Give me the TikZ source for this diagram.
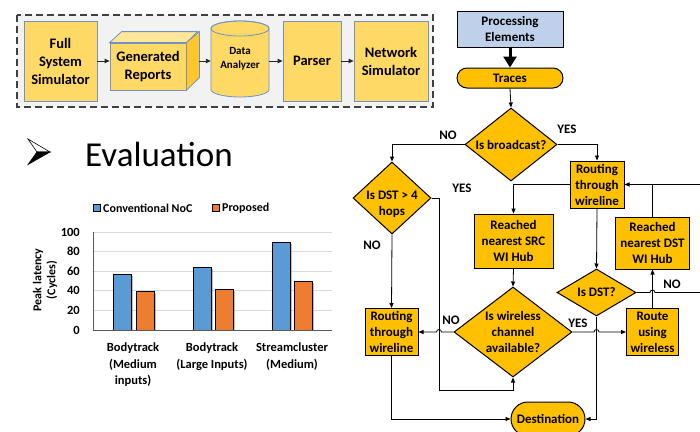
\documentclass[tikz,border=0pt]{standalone}
\usepackage{fontspec}
\setmainfont{Carlito}
\usetikzlibrary{arrows.meta,shapes.geometric,calc}
\definecolor{topfill}{RGB}{255,217,102}
\definecolor{cubetop}{RGB}{255,230,153}
\definecolor{cuberight}{RGB}{255,200,40}
\definecolor{topborder}{RGB}{112,146,196}
\definecolor{fgold}{RGB}{255,192,0}
\definecolor{pefill}{RGB}{190,208,234}
\definecolor{boxbg}{RGB}{242,242,242}
\definecolor{cblue}{RGB}{91,155,213}
\definecolor{corange}{RGB}{237,125,49}
\definecolor{gridc}{RGB}{217,217,217}
\definecolor{axisc}{RGB}{89,89,89}
\begin{document}
\begin{tikzpicture}[x=1pt,y=-1pt,
 topbox/.style={draw=topborder, fill=topfill, line width=0.8pt, align=center, inner sep=0pt, font=\fontsize{14.5}{18}\selectfont\bfseries},
 toparr/.style={-{Triangle[length=5pt,width=4.5pt]}, line width=0.9pt, black!85},
 fbox/.style={draw, fill=fgold, line width=1pt, align=center, inner sep=0pt, font=\fontsize{13}{16}\selectfont\bfseries},
 dia/.style={diamond, draw, fill=fgold, line width=1pt, inner sep=0pt},
 dlab/.style={align=center, inner sep=0pt, font=\fontsize{13}{16}\selectfont\bfseries},
 fline/.style={line width=0.8pt},
 farr/.style={fline, -{Triangle[length=5pt,width=4pt]}},
 yn/.style={font=\fontsize{13}{15}\selectfont\bfseries, inner sep=0pt},
 ctext/.style={font=\fontsize{12.5}{16.5}\selectfont\bfseries, inner sep=0pt, align=center},
 bar/.style={draw=black, line width=0.8pt},
 shad/.style={fill=black, opacity=0.25},
]
\useasboundingbox (0,0) rectangle (700,431);
\fill[white] (0,0) rectangle (700,431);

% ---------- top dashed tool flow ----------
\draw[draw=black!75, fill=boxbg, line width=1.1pt, dash pattern=on 7pt off 4pt] (17,15) rectangle (433,107);
\node[topbox, minimum width=73pt, minimum height=80pt] (fss) at (60.5,61) {Full\\System\\Simulator};
\node[topbox, minimum width=76pt, minimum height=47pt] (gr) at (148,66.5) {Generated\\Reports};
\filldraw[fill=cubetop, draw=topborder, line width=0.8pt] (gr.north west) -- ++(12,-11) -- ++(76,0) -- (gr.north east) -- cycle;
\filldraw[fill=cuberight, draw=topborder, line width=0.8pt] (gr.north east) -- ++(13,-11) -- ++(0,46) -- (gr.south east) -- cycle;
\filldraw[fill=topfill, draw=topborder, line width=0.8pt] (211,28.5) -- (211,89.5) arc[start angle=180,end angle=0,x radius=29,y radius=7.5] -- (269,28.5) arc[start angle=0,end angle=-180,x radius=29,y radius=7.5] -- cycle;
\draw[topborder, line width=0.8pt] (240,28.5) ellipse [x radius=29, y radius=7.5];
\node[inner sep=0pt, minimum width=58pt, minimum height=76pt, align=center, font=\fontsize{11}{14}\selectfont\bfseries] (da) at (240,59) {Data\\Analyzer};
\node[topbox, minimum width=58pt, minimum height=80pt] (par) at (312,61) {Parser};
\node[topbox, minimum width=74pt, minimum height=80pt] (ns) at (391,61) {Network\\Simulator};
\draw[toparr] (fss.east) -- (fss.east -| gr.west);
\draw[toparr] (gr.east |- fss.east) ++(13,0) -- (da.west |- fss.east);
\draw[toparr] (da.east |- fss.east) -- (par.west |- fss.east);
\draw[toparr] (par.east) -- (ns.west);

% ---------- Evaluation ----------
\filldraw[fill=white, draw=black, line width=0.6pt, line join=miter] (28,139) -- (50,152) -- (37,152) -- cycle;
\filldraw[fill=black, draw=black, line width=0.6pt] (37,152) -- (50,152) -- (28,164.5) -- cycle;
\node[anchor=base west, inner sep=0pt, font=\fontsize{35}{40}\selectfont] (ev) at (85,166) {Evaluation};

% ---------- bar chart ----------
\fill[cblue] (93,204) rectangle (100,211); \draw[line width=0.6pt] (93,204) rectangle (100,211);
\node[anchor=west, inner sep=0pt, font=\fontsize{12}{14}\selectfont\bfseries] (lg1) at (103,208) {Conventional NoC};
\fill[corange] (212,204) rectangle (219,211); \draw[line width=0.6pt] (212,204) rectangle (219,211);
\node[anchor=west, inner sep=0pt, font=\fontsize{12}{14}\selectfont\bfseries] (lg2) at (222,208) {Proposed};
\foreach \v in {20,40,60,80,100} {
  \draw[gridc, line width=0.7pt] (93,{330-0.98*\v}) -- (332,{330-0.98*\v});
}
\foreach \v in {0,20,40,60,80,100} {
  \node[anchor=east, inner sep=0pt, font=\fontsize{12.5}{14}\selectfont\bfseries] at (80,{330-0.98*\v}) {\v};
}
\draw[axisc, line width=0.9pt] (93,232) -- (93,330);
\foreach \x/\v/\c in {113/57/cblue,136/39/corange,193/64/cblue,215/41/corange,272/89/cblue,294/50/corange} {
  \fill[shad] (\x+1.5,{330-0.98*\v+1.5}) rectangle (\x+19.5,330);
  \draw[bar, fill=\c] (\x,330) rectangle (\x+18,{330-0.98*\v});
}
\draw[axisc, line width=0.9pt] (93,330) -- (332,330);
\node[rotate=90, align=center, inner sep=0pt, font=\fontsize{12}{14}\selectfont\bfseries] (yt) at (45,280) {Peak latency\\(Cycles)};
\node[ctext, anchor=north] (c1) at (133,343) {Bodytrack\\(Medium\\inputs)};
\node[ctext, anchor=north] (c2) at (212,343) {Bodytrack\\(Large Inputs)};
\node[ctext, anchor=north] (c3) at (292,343) {Streamcluster\\(Medium)};

% ---------- flowchart ----------
\node[fbox, fill=pefill, minimum width=106pt, minimum height=36pt] (pe) at (510,29) {Processing\\Elements};
\node[fbox, rounded corners=10pt, minimum width=106pt, minimum height=20pt] (tr) at (510,78) {Traces};
\node[dia, minimum width=92pt, minimum height=73pt, label={[dlab]center:Is broadcast?}] (bc) at (511,144.5) {};
\node[dia, minimum width=78pt, minimum height=72pt, label={[dlab, yshift=-6pt]center:{Is DST > 4\\hops}}] (d4) at (392,198) {};
\node[fbox, minimum width=54pt, minimum height=47pt] (rw2) at (597,184.5) {Routing\\through\\wireline};
\node[fbox, minimum width=79pt, minimum height=54pt] (src) at (513.5,241) {Reached\\nearest SRC\\WI Hub};
\node[dia, minimum width=118pt, minimum height=90pt, label={[dlab]center:{Is wireless\\channel\\available?}}] (wc) at (513,332) {};
\node[fbox, minimum width=53pt, minimum height=47pt] (rw1) at (391.5,332) {Routing\\through\\wireline};
\node[dia, minimum width=79pt, minimum height=47pt, label={[dlab]center:Is DST?}] (dq) at (596.5,292.5) {};
\node[fbox, minimum width=74pt, minimum height=52pt] (rd) at (652.5,243) {Reached\\nearest DST\\WI Hub};
\node[fbox, minimum width=52pt, minimum height=47pt] (ruw) at (652.5,332) {Route\\using\\wireless};
\node[fbox, rounded corners=17pt, minimum width=74pt, minimum height=34pt] (dest) at (548,419) {Destination};

\draw[line width=3pt, -{Triangle[length=11pt,width=13pt]}] (pe.south) -- (tr.north);
\draw[farr] (tr.south) -- (bc.north);
\draw[farr] (bc.west) -| (d4.north);
\draw[farr] (bc.east) -| (rw2.north);
\draw[farr] (d4.south) -- (rw1.north);
\coordinate (j1) at (439,198);
\draw[farr] (d4.east) -- (j1) -- (439,390) -| (wc.south);
\draw[farr] (wc.west) -- (441.5,332) arc[start angle=360,end angle=180,radius=2.5] -- (rw1.east);
\draw[farr] (rw1.south) |- (dest.west);
\draw[farr] (rw2.west) -| (src.north);
\draw[farr] (src.south) -- (wc.north);
\draw[farr] (rw2.south) -- (dq.north);
\draw[farr] (wc.east) -- (594,332) arc[start angle=180,end angle=360,radius=2.5] -- (ruw.west);
\draw[farr] (dq.south) |- (dest.east);
\coordinate (offA) at (706,292.5);
\draw[fline] (dq.east) -- (650,292.5) arc[start angle=180,end angle=360,radius=2.5] -- (offA);
\draw[farr] (ruw.north) -- (rd.south);
\draw[farr] (rd.north) |- (rw2.east);
\coordinate (offB) at (706,184.5);
\draw[fline] (offB) -- (rd.north |- rw2.east);

\node[yn] (l1) at (448,135) {NO};
\node[yn] (l2) at (567,129) {YES};
\node[yn] (l3) at (462,188) {YES};
\node[yn] (l4) at (372,245) {NO};
\node[yn] (l5) at (451,320) {NO};
\node[yn] (l6) at (578,323) {YES};
\node[yn] (l7) at (672,284) {NO};
\end{tikzpicture}
\end{document}
